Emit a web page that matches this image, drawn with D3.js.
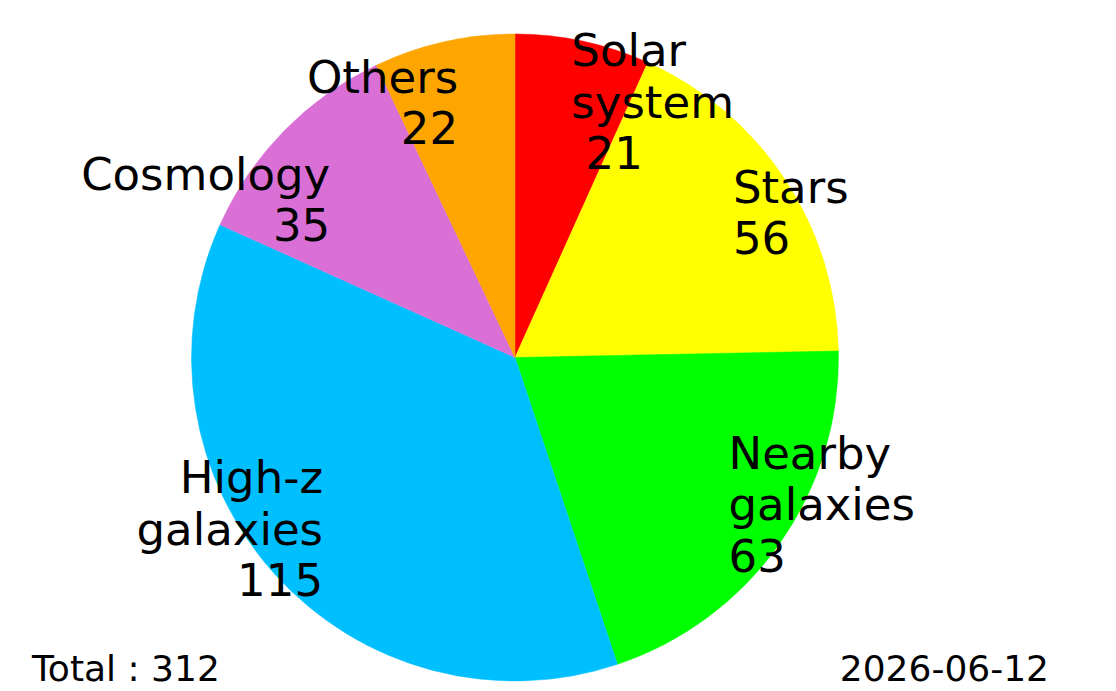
<!DOCTYPE html>
<html>
<head>
<meta charset="utf-8">
<script src="https://cdn.jsdelivr.net/npm/d3@7"></script>
<style>
  body { margin: 0; background: #fff; }
  text { font-family: "DejaVu Sans", sans-serif; fill: #000; white-space: pre; }
</style>
</head>
<body>
<script>
// slice data, clockwise from 12 o'clock
var categories = ["Solar system", "Stars", "Nearby galaxies", "High-z galaxies", "Cosmology", "Others"];
var counts = [21, 56, 63, 115, 35, 22];
var labelNames = ["Solar\nsystem\n ", "Stars\n", "Nearby\ngalaxies\n", "High-z\ngalaxies\n", "\nCosmology\n", "Others\n"];
var sliceColors = ["#ff0000", "#ffff00", "#00ff00", "#00bfff", "#da70d6", "#ffa500"];
var dateLabel = "2026-06-12";

var width = 1116, height = 691,
    cx = 515, cy = 357.5, radius = 323.5,
    lineStep = 51.5;

var svg = d3.select("body").append("svg")
    .attr("width", width)
    .attr("height", height);

var g = svg.append("g").attr("transform", "translate(" + cx + "," + cy + ")");

var color = d3.scaleOrdinal()
    .domain(categories)
    .range(sliceColors);

var pie = d3.pie()
    .sort(null)
    .value(function(d, i) { return counts[i]; });

var arcs = pie(categories);

var arc = d3.arc().innerRadius(0).outerRadius(radius);
var labelArc = d3.arc().innerRadius(radius * 0.8).outerRadius(radius * 0.8);

g.selectAll("path.slice")
    .data(arcs)
  .enter().append("path")
    .attr("class", "slice")
    .attr("fill", function(d) { return color(d.data); })
    .attr("stroke", function(d) { return color(d.data); })
    .attr("stroke-width", 0.5)
    .attr("d", arc);

var labels = g.selectAll("text.label")
    .data(arcs)
  .enter().append("text")
    .attr("class", "label")
    .attr("font-size", 45)
    .attr("text-anchor", function(d) {
      var c = labelArc.centroid(d);
      return c[0] >= 0 ? "start" : "end";
    })
    .attr("transform", function(d) {
      var c = labelArc.centroid(d);
      // small nudge right for right-hand labels
      return "translate(" + (c[0] >= 0 ? c[0] + 2 : c[0]) + "," + c[1] + ")";
    });

labels.each(function(d, i) {
  var lines = (labelNames[i] + counts[i]).split("\n");
  var first = -(lines.length - 1) / 2 * lineStep + 13.5;
  d3.select(this).selectAll("tspan")
      .data(lines)
    .enter().append("tspan")
      .attr("x", 0)
      .attr("y", function(l, j) { return first + j * lineStep; })
      .text(function(l) { return l; });
});

var total = d3.sum(counts);

svg.append("text")
    .attr("x", 32)
    .attr("y", 681)
    .attr("font-size", 36)
    .text("Total : " + total);

svg.append("text")
    .attr("x", 1049)
    .attr("y", 681)
    .attr("font-size", 36)
    .attr("text-anchor", "end")
    .text(dateLabel);
</script>
</body>
</html>
